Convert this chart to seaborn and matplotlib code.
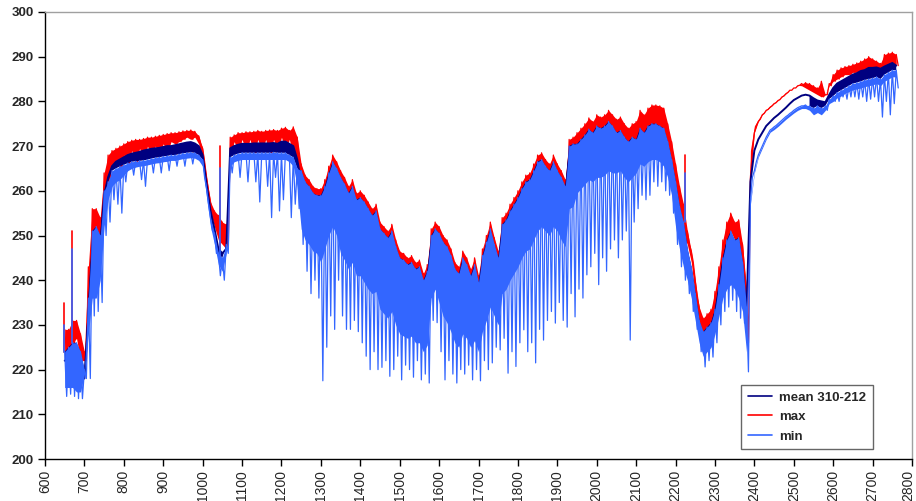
import numpy as np
import pandas as pd
import matplotlib
matplotlib.use("Agg")
import matplotlib.pyplot as plt
import matplotlib.transforms as mtransforms
import seaborn as sns

# wavenumber grid (cm-1); "LO" arrays are the spike troughs read half a step later (x + 5)
GRID = np.arange(650, 2761, 10)

MAX_HI = [
    229, 229, 231, 231, 228, 224, 243, 256, 256, 254,
    264, 268, 269, 269.5, 270, 270.5, 271, 271.3, 271.5, 271.5,
    271.7, 272, 272, 272.2, 272.4, 272.6, 272.8, 273, 273, 273.2,
    273.4, 273.5, 273.6, 273.3, 272.3, 269.5, 263, 257.5, 255.5, 254.5,
    253, 252.5, 272, 272.5, 273, 273, 273.2, 273.2, 273.3, 273.5,
    273.3, 273.5, 273.6, 273.7, 273.5, 274, 274.2, 273.5, 274.3, 272,
    266, 263.5, 262.5, 261, 260.5, 260.5, 262.5, 265.5, 268, 266.5,
    264.5, 263, 261, 262.5, 259.5, 260, 259, 257.5, 256, 257,
    253, 252, 251, 252.5, 249, 246.5, 246, 245, 245.5, 244,
    244.5, 241.5, 243.5, 251.5, 253, 252, 250, 249, 247, 244,
    243, 246.5, 245, 242.5, 245, 241, 247, 250, 253, 249.5,
    246.5, 254, 255, 257, 258.5, 260, 262, 263.5, 264, 266,
    268, 268.5, 267, 266, 268, 266, 264.5, 262.5, 271.5, 272,
    273, 274, 275, 276.3, 275.5, 277, 276.5, 277, 278, 277,
    276, 276.5, 275, 274, 275, 275.5, 278, 277, 278.5, 279.2,
    279.2, 279, 278.5, 275, 271, 266, 261, 257, 251, 246.5,
    240, 234, 231.5, 232.5, 233.5, 237.5, 243, 249, 253, 255,
    253, 253.5, 248, 238, 263, 273, 275.5, 277, 278, 278.7,
    279.5, 280.2, 281, 281.7, 282.5, 283, 283.5, 284, 284.2, 284,
    283.5, 283, 284.5, 281.5, 284, 286, 287, 287.5, 287.8, 288,
    288.3, 288.6, 289, 289.5, 290, 289.5, 289, 288.5, 290.5, 290.8,
    291, 290.5]

MAX_LO = [
    223, 225, 226, 227, 222, 222, 236, 246, 247, 247,
    256, 262, 265, 266, 265, 268, 266, 269, 266.5, 269.5,
    267, 270, 268, 270, 268.5, 270.5, 269, 271, 270.5, 271,
    271.5, 272, 271.5, 272, 270.5, 266.5, 260, 255, 252, 249,
    248, 247, 268, 271, 269, 271.5, 269, 271.5, 268.5, 271.5,
    269, 271.5, 268.5, 271.5, 269, 272, 269, 271.5, 268, 266,
    261, 258.5, 257.5, 256, 255.5, 255.5, 257.5, 260.5, 263, 261.5,
    259.5, 258, 256, 257.5, 254.5, 255, 254, 252.5, 251, 252,
    248, 247, 246, 247.5, 244, 241.5, 241, 240, 240.5, 239,
    239.5, 236.5, 238.5, 246.5, 248, 247, 245, 244, 242, 239,
    238, 241.5, 240, 237.5, 240, 236, 242, 245, 248, 244.5,
    241.5, 249, 250, 252, 253.5, 255, 257, 258.5, 259, 261,
    263, 263.5, 262, 261, 263, 261, 259.5, 257.5, 266.5, 267,
    268, 269, 270, 271.3, 270.5, 272, 271.5, 272, 273, 272,
    271, 271.5, 270, 269, 270, 270.5, 273, 272, 273.5, 274.2,
    274.2, 274, 273.5, 270, 266, 261, 256, 250, 248, 244,
    236, 230, 228.5, 229, 230, 233, 239, 245, 249, 251,
    249, 249, 242, 226, 269, 274.5, 276, 277.3, 278.2, 279,
    279.7, 280.4, 281.2, 282, 282.5, 283, 283.6, 283.5, 283, 282.5,
    282, 281.5, 281, 281.5, 283.5, 284.5, 285, 285.5, 286, 286,
    286.5, 286.5, 287, 287, 287.5, 287.5, 287, 286.5, 288, 288,
    288.5, 288]

MEAN = [
    222, 222, 224, 223, 222, 218, 232, 246, 248, 247,
    259, 263, 265.5, 266.5, 267, 267.5, 268, 268.3, 268.5, 268.7,
    269, 269.2, 269.4, 269.5, 269.6, 269.8, 270, 270, 270.2, 270.4,
    270.6, 270.8, 270.9, 270.6, 270, 268, 261.5, 255.5, 251.5, 247,
    246, 247, 269.5, 270, 270.3, 270.5, 270.5, 270.5, 270.6, 270.6,
    270.6, 270.6, 270.6, 270.7, 270.5, 271, 271, 270.5, 270, 267,
    262, 259.5, 258.5, 257, 256.5, 256.5, 258.5, 261.5, 264, 262.5,
    260.5, 259, 257, 258.5, 255.5, 256, 255, 253.5, 252, 253,
    249, 248, 247, 248.5, 245, 242.5, 242, 241, 241.5, 240,
    240.5, 237.5, 239.5, 247.5, 249, 248, 246, 245, 243, 240,
    239, 242.5, 241, 238.5, 241, 237, 243, 246, 249, 245.5,
    242.5, 250, 251, 253, 254.5, 256, 258, 259.5, 260, 262,
    264, 264.5, 263, 262, 264, 262, 260.5, 258.5, 267.5, 268,
    268.5, 269.5, 270.5, 271.8, 271, 272.5, 272, 272.5, 273.5, 272.5,
    271, 271.5, 270, 269, 270, 270.5, 273, 272, 273.5, 274,
    274, 273.5, 273, 270, 266, 261, 255.5, 252, 246, 242,
    236, 230, 227.5, 228.5, 229.5, 232.5, 238, 244, 248, 250,
    248, 248.5, 243, 233, 262, 269, 271.5, 273, 274.5, 275.4,
    276.3, 277, 277.8, 278.6, 279.5, 280.3, 280.8, 281.3, 281.5, 281.3,
    280.7, 280.2, 280, 279.8, 281.5, 283, 284, 284.5, 285, 285.5,
    286, 286.3, 286.8, 287, 287.5, 287.5, 287.6, 287.3, 287.8, 288.2,
    288.6, 288]

MIN_HI = [
    224, 225, 226, 226, 224, 220, 236, 251, 252, 250,
    260, 262, 264.5, 265, 265.5, 265.8, 266.2, 266.5, 266.6, 266.7,
    266.8, 267, 267.2, 267.4, 267.5, 267.7, 267.8, 268, 268, 268.2,
    268.4, 268.5, 268.6, 268.5, 268, 267, 260.5, 254, 250.5, 246,
    245, 248, 267.5, 268, 268.3, 268.5, 268.5, 268.5, 268.5, 268.5,
    268.5, 268.5, 268.5, 268.6, 268.5, 268.5, 268.5, 268, 267.5, 265,
    264.5, 262, 261, 259.5, 259, 259, 261, 264, 266.5, 265,
    263, 261.5, 259.5, 261, 258, 258.5, 257.5, 256, 254.5, 255.5,
    251.5, 250.5, 249.5, 251, 247.5, 245, 244.5, 243.5, 244, 242.5,
    243, 240, 242, 250, 251.5, 250.5, 248.5, 247.5, 245.5, 242.5,
    241.5, 245, 243.5, 241, 243.5, 239.5, 245.5, 248.5, 251.5, 248,
    245, 252.5, 253.5, 255.5, 257, 258.5, 260.5, 262, 262.5, 264.5,
    266.5, 267, 265.5, 264.5, 266.5, 264.5, 263, 261, 270, 270.5,
    270.5, 271.5, 272.5, 273.8, 273, 274.5, 274, 274.5, 275.5, 274.5,
    273, 273.5, 272, 271, 272, 271.5, 274, 273, 274.5, 275,
    275, 274.5, 274, 271, 267, 262, 256.5, 253, 247, 243,
    237, 231, 228.5, 229.5, 230.5, 233.5, 239, 245, 249, 251,
    249, 249.5, 244, 234, 258, 264.5, 268, 270, 272, 273.6,
    274.3, 275, 275.8, 276.6, 277.3, 278, 278.6, 279, 279.2, 279,
    278.5, 279, 278.5, 279, 280.5, 281.2, 282, 282.5, 283, 283.5,
    284, 284.2, 284.5, 284.8, 285, 285.2, 285.5, 285, 286, 286.5,
    287, 287]

# bottom of the solid part of the min band
MIN_BODY = [
    216, 216, 216, 215, 215, 219, 228, 236, 236, 240,
    252, 258, 261, 262, 262.5, 263.5, 264.5, 265, 265.3, 265.5,
    265.6, 265.8, 266, 266.2, 266.3, 266.5, 266.6, 266.8, 266.8, 267,
    267.2, 267.3, 267.4, 267.3, 266.8, 265.5, 258.5, 252, 248, 243.5,
    242, 246, 265.5, 266.5, 266.8, 267, 267, 267, 267, 267,
    267, 267, 267, 267, 267, 267, 267, 266.5, 265.5, 261,
    251.5, 249, 248, 246.5, 246, 244, 247, 250, 252, 250,
    246, 244.5, 242.5, 244, 241, 241, 239.5, 238, 237, 237.5,
    233.5, 232.5, 231.5, 233, 230, 228, 227.5, 227, 227.5, 226,
    226, 224, 225.5, 236, 238, 235, 232, 230.5, 228.5, 226,
    225, 228, 227, 225, 226.5, 224, 228.5, 231, 234, 232,
    230, 237, 238, 240, 241.5, 243, 245, 246.5, 247, 249,
    251, 252, 251, 250, 252, 251, 249, 247.5, 256, 256.5,
    259.5, 260.5, 261.5, 262.5, 262, 263, 263, 263.5, 264.5, 264,
    264, 264.5, 263, 262, 263, 264, 266, 265.5, 266.5, 267,
    267, 266.5, 265.5, 263, 259, 252, 247, 243, 240, 236,
    231, 226, 223, 224, 225, 228, 232, 236, 238, 239,
    238, 236, 233, 224, 257, 264, 267.5, 269.5, 271.5, 273.1,
    273.7, 274.4, 275.2, 276, 276.7, 277.4, 278, 278.4, 278.4, 278,
    277, 277.5, 277, 278, 279.5, 280, 280.8, 281.2, 281.8, 282.2,
    282.6, 282.8, 283, 283.3, 283.5, 283.7, 284, 283.5, 284.5, 285,
    285.5, 285.5]

MIN_LO = [
    214, 214.5, 214, 213.5, 213.5, 218, 218, 232, 233, 235,
    250, 253, 258, 257, 255, 262, 265.2, 263.5, 265.6, 262.5,
    261, 266, 264, 266.4, 264, 266.7, 264.5, 267, 265.5, 267.2,
    265.5, 267.5, 266, 267.5, 267, 263, 257, 251, 246, 241,
    240, 246, 264, 267, 263, 267.5, 262, 267.5, 262, 257.5,
    267.5, 261, 254, 263, 255.5, 258, 267.5, 254, 257, 256,
    248, 242, 237, 240, 236, 217.5, 225, 232, 229, 240,
    232, 229, 229, 231, 228.5, 226, 223, 220, 224, 220,
    220.5, 222, 218.5, 220, 223, 217.7, 221, 220, 218.3, 222,
    217.7, 219, 217, 231, 230.5, 224, 217.7, 222, 219, 217,
    220, 219, 221, 217.7, 220, 217.5, 222, 220, 221.5, 225,
    224.4, 227, 219.2, 224, 220.7, 226, 228.9, 224, 226, 221.5,
    229, 226.6, 231, 233, 230.4, 235, 231, 229.5, 237, 231.8,
    238, 236, 241.2, 243, 246, 239, 245, 242, 247, 249,
    245, 249, 251, 226.6, 253, 256, 259, 258, 259, 262,
    261, 262, 260, 259, 255, 248, 243, 240, 237, 233,
    229, 224, 220.6, 222, 222.8, 226, 230, 233, 234, 235.5,
    233, 231.5, 230.4, 219.5, 263, 266.5, 269, 271, 272.8, 273.9,
    274.6, 275.4, 276.2, 276.9, 277.6, 278.3, 278.8, 279, 278.5, 278,
    277.5, 278, 277.5, 278, 280, 280, 280, 281, 280.5, 281,
    281, 280.5, 281, 280, 280.5, 281, 280, 276.5, 280, 277,
    279.5, 283]

# isolated narrow upward spikes
SPIKE_WN = [648, 668, 1045, 2225]
SPIKE_BASE = [224, 226, 245, 253]
SPIKE_MAX = [235, 251, 270, 268]
SPIKE_MIN = [230, 247, 265, 264]

X_TICKS = list(range(600, 2801, 100))
Y_TICKS = list(range(200, 301, 10))
LABELS = ["mean 310-212", "max", "min"]
COLORS = {"mean 310-212": "#000080", "max": "#FF0000", "min": "#3366FF"}
# wavenumber ranges where the mean band merges with the min band
MEAN_BAND_RANGES = [(640, 2390), (2540, 2770)]

for arr in (MAX_HI, MAX_LO, MEAN, MIN_HI, MIN_BODY, MIN_LO):
    assert len(arr) == len(GRID), len(arr)


def zigzag(hi, lo):
    x = np.column_stack([GRID, GRID + 5]).ravel()
    y = np.column_stack([hi, lo]).ravel()
    return pd.DataFrame({"wn": x, "bt": y})


def spikes(top):
    rows = []
    for k, (w, b, t) in enumerate(zip(SPIKE_WN, SPIKE_BASE, top)):
        rows.append((w, b, k))
        rows.append((w, t, k))
    return pd.DataFrame(rows, columns=["wn", "bt", "unit"])


sns.set_style("white")
plt.rcParams["font.family"] = ["Liberation Sans", "DejaVu Sans"]

fig = plt.figure(figsize=(9.16, 5.01), dpi=100)
ax = fig.add_axes([45 / 916, 42 / 501, 867 / 916, 447 / 501])

c_max, c_mean, c_min = COLORS["max"], COLORS["mean 310-212"], COLORS["min"]

# max
ax.fill_between(GRID, MAX_HI, MAX_LO, color=c_max, lw=0, zorder=1)
sns.lineplot(data=zigzag(MAX_HI, MAX_LO), x="wn", y="bt", color=c_max, lw=0.9,
             estimator=None, sort=False, ax=ax, label="max", zorder=1.1)
sns.lineplot(data=spikes(SPIKE_MAX), x="wn", y="bt", units="unit", color=c_max,
             lw=1.2, estimator=None, sort=False, ax=ax, zorder=1.2, legend=False)

# mean
band = np.zeros(len(GRID), dtype=bool)
for a, b in MEAN_BAND_RANGES:
    band |= (GRID >= a) & (GRID <= b)
ax.fill_between(GRID, MEAN, MIN_HI, where=band, color=c_mean, lw=0, zorder=2)
sns.lineplot(x=GRID, y=MEAN, color=c_mean, lw=1.4, estimator=None, sort=False,
             ax=ax, label="mean 310-212", zorder=2.1)

# min
ax.fill_between(GRID, MIN_HI, MIN_BODY, color=c_min, lw=0, zorder=3)
sns.lineplot(data=zigzag(MIN_HI, MIN_LO), x="wn", y="bt", color=c_min, lw=0.9,
             estimator=None, sort=False, ax=ax, label="min", zorder=3.1)
sns.lineplot(data=spikes(SPIKE_MIN), x="wn", y="bt", units="unit", color=c_min,
             lw=1.2, estimator=None, sort=False, ax=ax, zorder=3.2, legend=False)

ax.set_xlim(600, 2800)
ax.set_ylim(200, 300)
ax.set_xticks(X_TICKS)
ax.set_yticks(Y_TICKS)
ax.set_xlabel("")
ax.set_ylabel("")
ax.tick_params(axis="y", direction="out", length=5, width=1, color="black",
               labelsize=9.5, pad=3, left=True)
ax.tick_params(axis="x", direction="out", length=5, width=1, color="black",
               labelsize=10, pad=3, bottom=True, labelrotation=90)
for lab in ax.get_yticklabels():
    lab.set_fontweight("bold")
last = ax.get_xticklabels()[-1]
last.set_transform(last.get_transform() +
                   mtransforms.ScaledTranslation(-4 / 100, 0, fig.dpi_scale_trans))

for side in ("left", "bottom"):
    ax.spines[side].set_color("black")
    ax.spines[side].set_linewidth(1)
for side in ("top", "right"):
    ax.spines[side].set_color("#a0a0a0")
    ax.spines[side].set_linewidth(1)

handles, labels = ax.get_legend_handles_labels()
order = [labels.index(l) for l in LABELS]
leg = ax.legend([handles[i] for i in order], [labels[i] for i in order],
                loc="lower left", bbox_to_anchor=(0.803, 0.022), borderaxespad=0,
                fancybox=False, frameon=True, edgecolor="#404040",
                prop={"weight": "bold", "size": 9.5}, handlelength=1.8,
                labelspacing=0.55, borderpad=0.5, handletextpad=0.6)
leg.get_frame().set_linewidth(1)
leg.set_zorder(10)
for h in leg.get_lines():
    h.set_linewidth(1.2)

fig.savefig("out.png", dpi=100)
